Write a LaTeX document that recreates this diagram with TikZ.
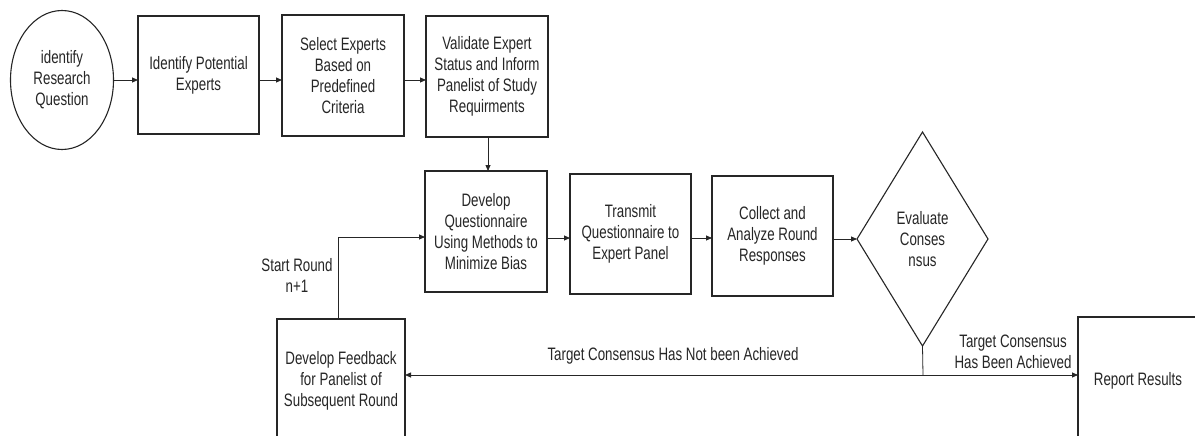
\documentclass[tikz,border=0pt]{standalone}
\usepackage{fontspec}
\setmainfont{Liberation Sans}[FakeStretch=0.74]
\usetikzlibrary{shapes.geometric,arrows.meta}
\begin{document}
\begin{tikzpicture}[x=1pt,y=-1pt,
  font=\fontsize{18}{21}\selectfont,
  every node/.style={text=black!85},
  shp/.style={draw=black!85, line width=1.1pt, align=center, inner sep=0pt, outer sep=0pt},
  boxx/.style 2 args={shp, rectangle, minimum width=#1, minimum height=#2},
  conn/.style={draw=black!85, line width=0.8pt, -{Triangle[length=6pt,width=5pt]}},
  plain/.style={draw=black!85, line width=0.8pt},
  lbl/.style={align=center, inner sep=0pt}
]
\useasboundingbox (0,0) rectangle (1195,436);
\clip (0,0) rectangle (1195,436);
\fill[white] (0,0) rectangle (1195,436);

\node[shp, ellipse, minimum width=103, minimum height=139] (q) at (62,80) {identify\\Research\\Question};
\node[boxx={121}{118}] (b1) at (198.5,75) {Identify Potential\\Experts};
\node[boxx={122}{121}] (b2) at (343,75.5) {Select Experts\\Based on\\Predefined\\Criteria};
\node[boxx={122}{121}] (b3) at (487,76.5) {Validate Expert\\Status and Inform\\Panelist of Study\\Requirments};
\node[boxx={122}{121}] (b4) at (486,231.5) {Develop\\Questionnaire\\Using Methods to\\Minimize Bias};
\node[boxx={121}{120}] (b5) at (630.5,234) {Transmit\\Questionnaire to\\Expert Panel};
\node[boxx={121}{120}] (b6) at (772.5,236) {Collect and\\Analyze Round\\Responses};
\node[shp, diamond, minimum width=131, minimum height=214] (d) at (922.5,239) {Evaluate\\Conses\\nsus};
\node[boxx={128}{124}] (fb) at (341,381) {Develop Feedback\\for Panelist of\\Subsequent Round};
\node[boxx={120}{128}] (r) at (1138,381) {Report Results};

\coordinate (j) at (923,375);

\draw[conn] (q.east |- 0,80) -- (b1.west |- 0,80);
\draw[conn] (b1.east |- 0,80) -- (b2.west |- 0,80);
\draw[conn] (b2.east |- 0,80) -- (b3.west |- 0,80);
\draw[conn] (b3.south -| 488,0) -- (b4.north -| 488,0);
\draw[conn] (b4.east |- 0,238) -- (b5.west |- 0,238);
\draw[conn] (b5.east |- 0,238) -- (b6.west |- 0,238);
\draw[conn] (b6.east |- 0,239) -- (d.west);
\draw[plain] (d.south) -- (j);
\draw[conn] (j) -- (fb.east |- j);
\draw[conn] (j) -- (r.west |- j);
\draw[conn] (fb.north -| 338,0) |- (b4.west |- 0,237);

\node[lbl] (l1) at (297,275) {Start Round\\n+1};
\node[lbl] (l2) at (673,356) {Target Consensus Has Not been Achieved};
\node[lbl] (l3) at (1013,352) {Target Consensus\\Has Been Achieved};
\end{tikzpicture}
\end{document}
